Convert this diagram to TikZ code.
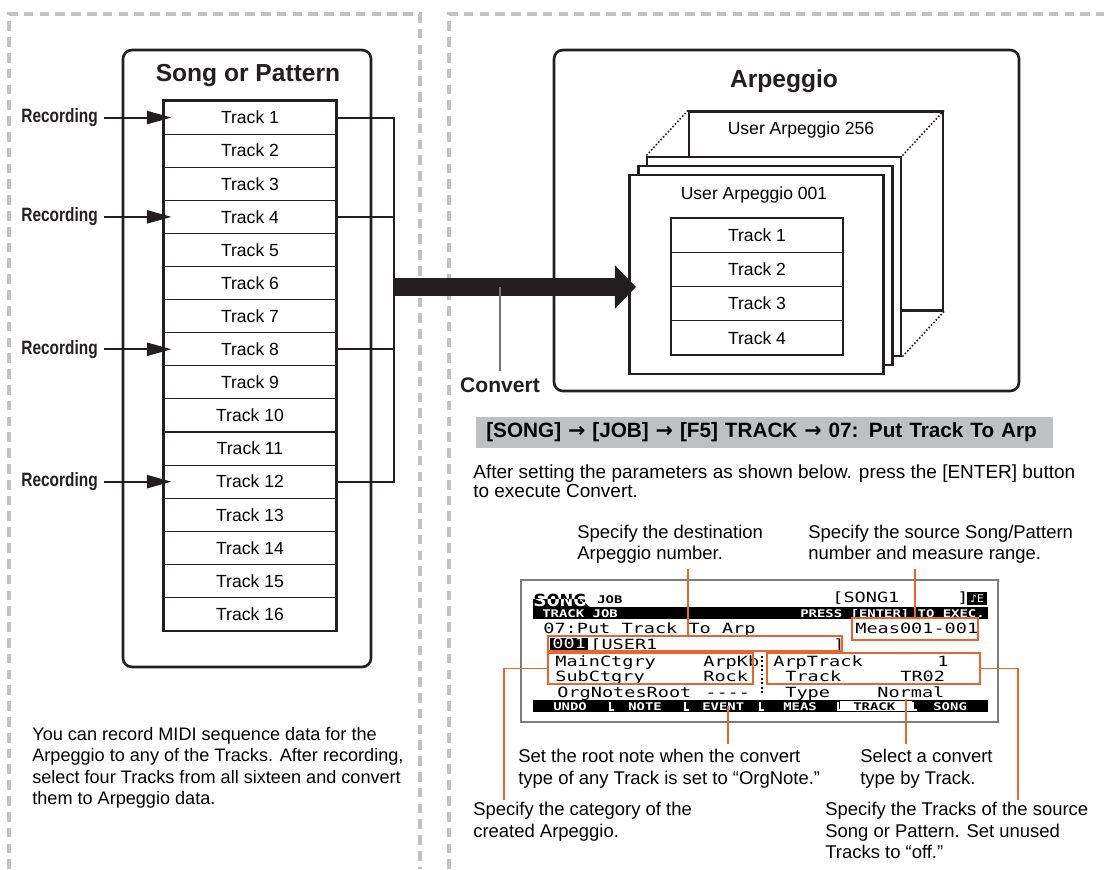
\documentclass[tikz,border=0pt]{standalone}
\usepackage{fontspec}
\setmainfont{Liberation Sans}
\newfontfamily\condfont[FakeStretch=0.8]{Liberation Sans}
\newfontfamily\lcdfont[FakeStretch=1.32]{DejaVu Sans Mono}
\newfontfamily\symfont{DejaVu Sans}
\newcommand\jobarrow{{\symfont\bfseries →}}
\usetikzlibrary{arrows.meta}

\definecolor{dashgray}{RGB}{192,194,196}
\definecolor{bannergray}{RGB}{190,192,194}
\definecolor{callorange}{RGB}{236,100,42}
\definecolor{ink}{RGB}{35,31,32}
\definecolor{framegray}{RGB}{125,125,125}

\tikzset{
  dashframe/.style={draw=dashgray, line width=2.2pt, dash pattern=on 5.5pt off 3.5pt},
  roundbox/.style={draw=ink, line width=1.5pt, rounded corners=5pt},
  boxtitle/.style={font=\fontsize{14}{16}\selectfont\bfseries, text=ink},
  trackcell/.style={draw=ink, line width=0.6pt, minimum width=3.44cm, minimum height=0.662cm, inner sep=0pt, font=\fontsize{10}{12}\selectfont},
  arpcell/.style={trackcell, line width=0.8pt, minimum height=0.685cm},
  arpframe/.style={draw=ink, fill=white, line width=1.2pt, minimum width=5.08cm, minimum height=3.98cm},
  reclabel/.style={anchor=east, font=\condfont\fontsize{11}{13}\selectfont\bfseries, text=ink},
  recarrow/.style={draw=ink, line width=1.1pt, -{Triangle[length=14pt,width=7.5pt]}, shorten >=-4.5pt},
  wire/.style={draw=ink, line width=1.1pt},
  bigarrow/.style={draw=ink, line width=10.8pt, -{Triangle[length=12pt,width=24pt]}},
  leader/.style={draw=black!55, line width=0.6pt},
  dotlink/.style={draw=ink, line width=0.9pt, dash pattern=on 0.9pt off 1.1pt},
  note/.style={anchor=north west, inner sep=0pt, align=left, font=\fontsize{10.5}{12.2}\selectfont},
  callbox/.style={draw=callorange, line width=1.1pt, inner sep=0pt},
  callout/.style={draw=callorange, line width=1.1pt},
  lcd/.style={anchor=base west, inner sep=0pt, font=\lcdfont\fontsize{8}{8}\selectfont},
  lcdsmall/.style={lcd, font=\lcdfont\fontsize{6}{6}\selectfont\bfseries},
}

\begin{document}
\begin{tikzpicture}[x=0.02cm, y=-0.02cm]
\useasboundingbox (0,0) rectangle (1104,869);
% dashed panels
\draw[dashframe] (9,869) -- (9,14) -- (420,14) -- (420,869);
\draw[dashframe] (449,869) -- (449,14) -- (1104,14);

% song or pattern
\node[roundbox, minimum width=4.96cm, minimum height=12.34cm] (song) at (247,358.5) {};
\node[boxtitle] (songtitle) at (248,76) {Song or Pattern};
\foreach \i in {1,...,16}
  \node[trackcell] (t\i) at (250,{117.55+33.1*(\i-1)}) {Track \i};
\draw[ink, line width=1.4pt] (t1.north west) rectangle (t16.south east);

\coordinate (bus) at (394,0);
\foreach \i in {1,4,8,12} {
  \node[reclabel] (rec\i) at (104,{117.55+33.1*(\i-1)}) {Recording};
  \draw[recarrow] (rec\i.east) -- (t\i.west);
}
\draw[wire] (t1.east) -- (t1.east -| bus) -- (t12.east -| bus) -- (t12.east);
\draw[wire] (t4.east) -- (t4.east -| bus);
\draw[wire] (t8.east) -- (t8.east -| bus);

% arpeggio
\node[roundbox, minimum width=9.3cm, minimum height=6.82cm] (arp) at (786.5,220.5) {};
\node[boxtitle] (arptitle) at (784,81) {Arpeggio};
\node[arpframe] (f256) at (816,211) {};
\node[font=\fontsize{10}{12}\selectfont] (f256title) at (801,130) {User Arpeggio 256};
\node[arpframe] (f2) at (774,256.5) {};
\node[arpframe] (f3) at (765.5,265.5) {};
\node[arpframe] (f1) at (756.5,274.5) {};
\draw[dotlink] (f256.north west) -- (f2.north west);
\draw[dotlink] (f256.north east) -- (f2.north east);
\draw[dotlink] (f256.south east) -- (f2.south east);
\node[font=\fontsize{10}{12}\selectfont] (f1title) at (754,195) {User Arpeggio 001};
\foreach \i in {1,...,4}
  \node[arpcell] (a\i) at (757,{235.1+34.25*(\i-1)}) {Track \i};

% convert
\coordinate (cvfrom) at (394,287);
\coordinate (cvto) at (636,287);
\draw[bigarrow] (cvfrom) -- (cvto);
\node[font=\fontsize{12}{14}\selectfont\bfseries, text=ink] (convert) at (500,385) {Convert};
\draw[leader] (convert.north) -- (convert.north |- cvfrom);

% job path and notes
\node[anchor=west, fill=bannergray, minimum height=0.62cm, text width=11.14cm, align=left, inner xsep=5.67pt, font=\fontsize{11.8}{14}\selectfont\bfseries] (route) at (476,432.5) {[SONG] \jobarrow{} [JOB] \jobarrow{} [F5] TRACK \jobarrow{} 07: Put Track To Arp};
\node[note, font=\fontsize{10.8}{11.2}\selectfont] (howto) at (473,464) {After setting the parameters as shown below. press the [ENTER] button\\to execute Convert.};
\node[note, font=\fontsize{10.5}{11.6}\selectfont] (destlbl) at (577,525) {Specify the destination\\Arpeggio number.};
\node[note, font=\fontsize{10.5}{11.6}\selectfont] (srclbl) at (808,525) {Specify the source Song/Pattern\\number and measure range.};

% lcd screen
\node[draw=framegray, line width=0.8pt, minimum width=9.54cm, minimum height=2.84cm] (lcd) at (759.5,651) {};
\node[lcd, font=\lcdfont\fontsize{9.5}{10}\selectfont\bfseries] (mode) at (533,606) {SONG};
\fill (533,599) -- (580,599) -- (590,607) -- (533,607) -- cycle;
\begin{scope}
  \clip (533,599) -- (580,599) -- (590,607) -- (533,607) -- cycle;
  \node[lcd, font=\lcdfont\fontsize{9.5}{10}\selectfont\bfseries, text=white] at (533,606) {SONG};
\end{scope}
\fill (533,607) rectangle (988,619);
\node[lcdsmall] at (597,603) {JOB};
\node[lcd] at (832,602) {[SONG1};
\node[lcd] at (957,602) {]};
\fill (967,592) rectangle (987,605);
\node[text=white, font=\symfont\fontsize{6}{6}\selectfont, inner sep=0pt] at (977,598.5) {♪E};
\node[lcdsmall, text=white] at (542,617) {TRACK JOB};
\node[lcdsmall, text=white] at (800,617) {PRESS [ENTER] TO EXEC.};
\node[lcd] at (543,633) {07:Put Track To Arp};
\node[lcd] at (855,633) {Meas001-001};
\fill (550,638) rectangle (588,650);
\node[lcd, text=white] at (552,648.5) {001};
\node[lcd] at (590,649) {[USER1};
\node[lcd] at (833,649) {]};
\node[lcd] at (555,666) {MainCtgry};
\node[lcd] at (703,666) {ArpKb};
\node[lcd] at (773,666) {ArpTrack};
\node[lcd] at (937,666) {1};
\node[lcd] at (555,681) {SubCtgry};
\node[lcd] at (703,681) {Rock};
\node[lcd] at (785,681) {Track};
\node[lcd] at (900,681) {TR02};
\node[lcd] at (557,697) {OrgNotesRoot};
\node[lcd] at (705,697) {----};
\node[lcd] at (785,697) {Type};
\node[lcd] at (877,697) {Normal};
\draw[line width=1pt, dash pattern=on 1pt off 1.5pt] (762,656) -- (762,694);
\fill (533,700) rectangle (988,712);
\fill[white] (840,701) rectangle (912,711);
\foreach \x/\lab in {553/UNDO,628/NOTE,702/EVENT,783/MEAS,933/SONG}
  \node[lcdsmall, text=white] at (\x,710) {\lab};
\node[lcdsmall] at (853,710) {TRACK};
\foreach \x in {610,685,760,838,913}
  \draw[white, line width=0.8pt] (\x,702) -- (\x,710) -- ++(4,0);

% callouts
\node[callbox, minimum width=2.52cm, minimum height=0.44cm] (measbox) at (915,629) {};
\node[callbox, minimum width=5.88cm, minimum height=0.3cm] (userbox) at (695,643.5) {};
\node[callbox, minimum width=4.1cm, minimum height=0.62cm] (catbox) at (650.5,668.5) {};
\node[callbox, minimum width=4.26cm, minimum height=0.62cm] (trkbox) at (873.5,668.5) {};

\node[note] (rootlbl) at (518,749) {Set the root note when the convert\\type of any Track is set to “OrgNote.”};
\node[note] (typelbl) at (860,749) {Select a convert\\type by Track.};
\node[note] (catlbl) at (473,802) {Specify the category of the\\created Arpeggio.};
\node[note] (trklbl) at (825,802) {Specify the Tracks of the source\\Song or Pattern. Set unused\\Tracks to “off.”};
\node[note, font=\fontsize{10.3}{12.2}\selectfont] (recnote) at (32,727) {You can record MIDI sequence data for the\\Arpeggio to any of the Tracks. After recording,\\select four Tracks from all sixteen and convert\\them to Arpeggio data.};

\coordinate (destx) at (688,0);
\coordinate (catx) at (504,0);
\coordinate (trkx) at (1018,0);
\coordinate (rootpt) at (728,706);
\coordinate (typept) at (906,699);
\draw[callout, shorten <=3pt] (destx |- destlbl.south) -- (destx |- userbox.north);
\draw[callout, shorten <=3pt] (measbox.north |- srclbl.south) -- (measbox.north);
\draw[callout, shorten >=1pt] (catbox.west) -- (catx |- catbox.west) -- (catx |- catlbl.north);
\draw[callout, shorten >=1pt] (trkbox.east) -- (trkx |- trkbox.east) -- (trkx |- trklbl.north);
\draw[callout, shorten >=3pt] (rootpt) -- (rootpt |- rootlbl.north);
\draw[callout, shorten >=3pt] (typept) -- (typept |- typelbl.north);
\end{tikzpicture}
\end{document}
